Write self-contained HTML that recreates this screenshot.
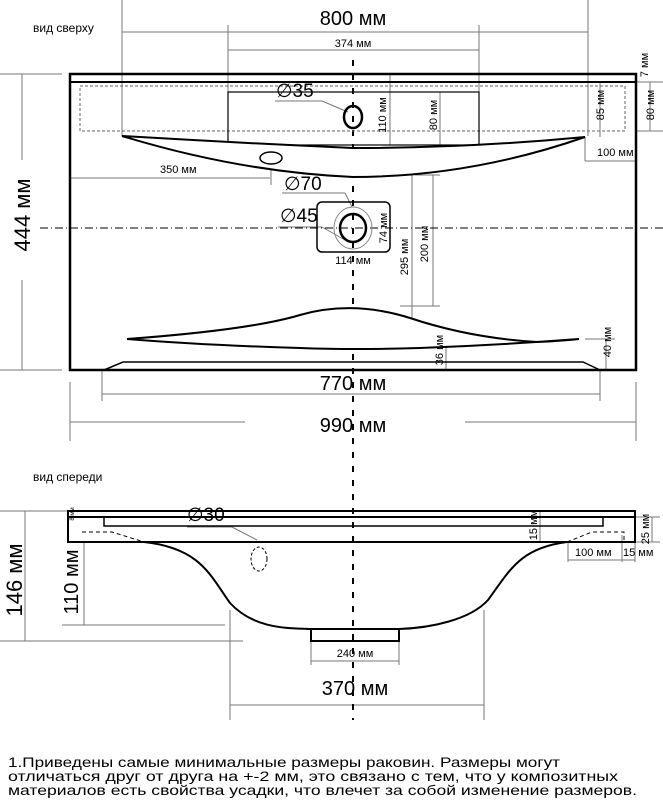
<!DOCTYPE html>
<html><head><meta charset="utf-8"><style>
html,body{margin:0;padding:0;background:#fff;}
svg{display:block;font-family:"Liberation Sans",Arial,sans-serif;}
</style></head><body>
<svg width="663" height="800" viewBox="0 0 663 800" xmlns="http://www.w3.org/2000/svg">
<g fill="none" stroke="#777" stroke-width="1">
<!-- top view dims -->
<line x1="122" y1="0" x2="122" y2="136"/><line x1="588" y1="0" x2="588" y2="136"/>
<line x1="122" y1="32" x2="588" y2="32"/>
<line x1="228" y1="25" x2="228" y2="92"/><line x1="479" y1="25" x2="479" y2="92"/>
<line x1="228" y1="50" x2="479" y2="50"/>
<line x1="0" y1="74" x2="62" y2="74"/><line x1="0" y1="370" x2="62" y2="370"/>
<line x1="22" y1="74" x2="22" y2="160"/><line x1="22" y1="280" x2="22" y2="370"/>
<line x1="390" y1="74" x2="390" y2="145"/><line x1="440" y1="92" x2="440" y2="145"/>
<line x1="600" y1="82" x2="600" y2="137"/>
<line x1="585" y1="137" x2="585" y2="161"/><line x1="585" y1="161" x2="636" y2="161"/>
<line x1="636" y1="82" x2="663" y2="82"/><line x1="636" y1="131" x2="663" y2="131"/><line x1="650" y1="82" x2="650" y2="131"/>
<line x1="70" y1="178" x2="270" y2="178"/><line x1="271" y1="165" x2="271" y2="185"/>
<line x1="282" y1="193" x2="345" y2="193"/><line x1="345" y1="193" x2="352" y2="207"/>
<line x1="278" y1="227" x2="322" y2="227"/><line x1="322" y1="227" x2="345" y2="240"/>
<line x1="275" y1="101" x2="322" y2="101"/><line x1="322" y1="101" x2="348" y2="112"/>
<line x1="433" y1="175" x2="433" y2="306"/><line x1="415" y1="175" x2="440" y2="175"/><line x1="400" y1="306" x2="440" y2="306"/>
<line x1="412" y1="148" x2="412" y2="349"/>
<line x1="446" y1="340" x2="446" y2="370"/><line x1="606" y1="339" x2="606" y2="370"/><line x1="585" y1="339" x2="615" y2="339"/>
<line x1="102" y1="370" x2="102" y2="401"/><line x1="600" y1="370" x2="600" y2="401"/>
<line x1="102" y1="394" x2="600" y2="394"/>
<line x1="70" y1="382" x2="70" y2="441"/><line x1="636" y1="382" x2="636" y2="441"/>
<line x1="70" y1="422" x2="245" y2="422"/><line x1="465" y1="422" x2="636" y2="422"/>
<!-- front view dims -->
<line x1="0" y1="511" x2="68" y2="511"/><line x1="0" y1="641" x2="243" y2="641"/>
<line x1="25" y1="511" x2="25" y2="641"/>
<line x1="84" y1="542" x2="84" y2="625"/><line x1="62" y1="625" x2="225" y2="625"/>
<line x1="636" y1="517" x2="660" y2="517"/><line x1="636" y1="542" x2="660" y2="542"/><line x1="652" y1="517" x2="652" y2="542"/>
<line x1="540" y1="510" x2="540" y2="542"/>
<line x1="568" y1="542" x2="568" y2="562"/><line x1="622" y1="535" x2="622" y2="562"/><line x1="635" y1="542" x2="635" y2="562"/>
<line x1="568" y1="560" x2="635" y2="560"/>
<line x1="187" y1="527" x2="232" y2="527"/><line x1="232" y1="527" x2="257" y2="540"/>
<line x1="311" y1="641" x2="311" y2="665"/><line x1="399" y1="641" x2="399" y2="665"/>
<line x1="311" y1="661" x2="399" y2="661"/>
<line x1="230" y1="610" x2="230" y2="720"/><line x1="484" y1="610" x2="484" y2="720"/>
<line x1="230" y1="705" x2="484" y2="705"/>
</g>
<!-- center lines -->
<line x1="353" y1="60" x2="353" y2="720" stroke="#000" stroke-width="2" stroke-dasharray="6,8"/>
<line x1="40" y1="228" x2="663" y2="228" stroke="#000" stroke-width="1" stroke-dasharray="8,3,1,3"/>
<!-- top view -->
<g fill="none" stroke="#000">
<rect x="70" y="74" width="566" height="296" stroke-width="2.5"/>
<line x1="70" y1="82" x2="636" y2="82" stroke-width="2"/>
<rect x="80" y="86" width="545" height="45" stroke="#666" stroke-dasharray="3,2"/>
<rect x="228" y="92" width="251" height="53" stroke-width="1.2"/>
<ellipse cx="353" cy="117" rx="9" ry="11" stroke-width="2.5"/>
<path d="M122 136 Q240 143 353 148 Q470 148 585 137 Q470 177 353 177 Q240 172 122 136Z" stroke-width="2" fill="#fff"/>
<ellipse cx="271" cy="158" rx="11" ry="6" stroke-width="1.5"/>
<rect x="317" y="202" width="73" height="50" rx="5" stroke-width="1.5"/>
<ellipse cx="353" cy="228" rx="19" ry="21" stroke="#888"/>
<ellipse cx="353" cy="228" rx="13" ry="14" stroke-width="2.5"/>
<path d="M127 339 Q250 330 300 315 Q353 300 410 318 Q470 338 537 342 Q560 341 579 339 Q500 345 420 348 Q353 350 300 348 Q200 345 127 339Z" stroke-width="2" fill="#fff"/>
<path d="M104 370 L123 362 L583 362 L600 370" stroke-width="1.5"/>
</g>
<!-- front view -->
<g fill="none" stroke="#000">
<rect x="68" y="511" width="567" height="31" stroke-width="2"/>
<line x1="68" y1="517" x2="635" y2="517" stroke-width="2"/>
<rect x="104" y="517" width="499" height="9" stroke-width="1.5"/>
<path d="M82 532 L112 532 L144 542" stroke-dasharray="4,3"/>
<path d="M567 542 L592 532 L624 532 L624 540" stroke-dasharray="4,3"/>
<path d="M144 542 C200 548 210 575 230 603 C255 630 290 628 311 629 L399 629 C430 628 470 620 488 600 C510 570 520 548 567 542" stroke-width="2"/>
<rect x="311" y="629" width="88" height="12" stroke-width="2"/>
<ellipse cx="259" cy="559" rx="8" ry="12" stroke-dasharray="3,2"/>
</g>
<!-- text -->
<g fill="#000">
<text x="33" y="32" font-size="12">вид сверху</text>
<text x="353" y="25" font-size="20" text-anchor="middle">800 мм</text>
<text x="353" y="47" font-size="11" text-anchor="middle">374 мм</text>
<text x="276" y="97" font-size="19">∅35</text>
<text x="284" y="190" font-size="19">∅70</text>
<text x="280" y="222" font-size="19">∅45</text>
<text x="160" y="173" font-size="11">350 мм</text>
<text x="353" y="264" font-size="11" text-anchor="middle">114 мм</text>
<text x="597" y="156" font-size="11">100 мм</text>
<text font-size="11" transform="translate(386,115) rotate(-90)" text-anchor="middle">110 мм</text>
<text font-size="11" transform="translate(437,115) rotate(-90)" text-anchor="middle">80 мм</text>
<text font-size="11" transform="translate(604,105) rotate(-90)" text-anchor="middle">85 мм</text>
<text font-size="11" transform="translate(654,105) rotate(-90)" text-anchor="middle">80 мм</text>
<text font-size="11" transform="translate(648,65) rotate(-90)" text-anchor="middle">7 мм</text>
<text font-size="11" transform="translate(387,228) rotate(-90)" text-anchor="middle">74 мм</text>
<text font-size="11" transform="translate(428,244) rotate(-90)" text-anchor="middle">200 мм</text>
<text font-size="11" transform="translate(408,257) rotate(-90)" text-anchor="middle">295 мм</text>
<text font-size="11" transform="translate(443,350) rotate(-90)" text-anchor="middle">36 мм</text>
<text font-size="11" transform="translate(611,342) rotate(-90)" text-anchor="middle">40 мм</text>
<text font-size="22" transform="translate(30,215) rotate(-90)" text-anchor="middle">444 мм</text>
<text x="353" y="390" font-size="20" text-anchor="middle">770 мм</text>
<text x="353" y="432" font-size="20" text-anchor="middle">990 мм</text>
<text x="33" y="481" font-size="12">вид спереди</text>
<text x="187" y="521" font-size="19">∅30</text>
<text font-size="6" transform="translate(74,514) rotate(-90)" text-anchor="middle">8 мм</text>
<text font-size="11" transform="translate(537,525) rotate(-90)" text-anchor="middle">15 мм</text>
<text font-size="11" transform="translate(649,529) rotate(-90)" text-anchor="middle">25 мм</text>
<text x="575" y="556" font-size="11">100 мм</text>
<text x="623" y="556" font-size="11">15 мм</text>
<text font-size="22" transform="translate(22,580) rotate(-90)" text-anchor="middle">146 мм</text>
<text font-size="20" transform="translate(78,582) rotate(-90)" text-anchor="middle">110 мм</text>
<text x="355" y="657" font-size="11" text-anchor="middle">240 мм</text>
<text x="355" y="695" font-size="20" text-anchor="middle">370 мм</text>
<text x="8" y="767" font-size="14" textLength="552" lengthAdjust="spacingAndGlyphs">1.Приведены самые минимальные размеры раковин. Размеры могут</text>
<text x="8" y="781" font-size="14" textLength="610" lengthAdjust="spacingAndGlyphs">отличаться друг от друга на +-2 мм, это связано с тем, что у композитных</text>
<text x="8" y="795" font-size="14" textLength="629" lengthAdjust="spacingAndGlyphs">материалов есть свойства усадки, что влечет за собой изменение размеров.</text>
</g>
</svg>
</body></html>
